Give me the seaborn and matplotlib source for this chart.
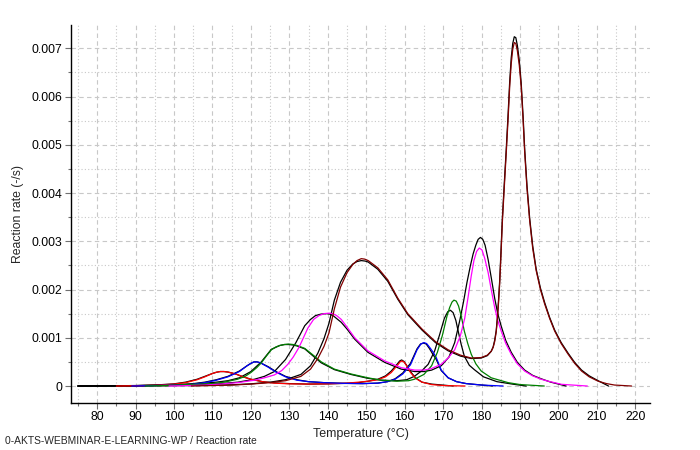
import matplotlib
matplotlib.use("Agg")
import matplotlib.pyplot as plt
from matplotlib.ticker import MultipleLocator
import numpy as np
import pandas as pd
import seaborn as sns

# reaction rate values in 1e-3 /s
t_red = [85, 90, 95, 100, 103, 106, 108, 110, 111, 112, 113, 114, 116, 118, 120, 123, 126, 130, 135, 140, 145, 148,
         150.5, 153, 155, 156.5, 158, 158.8, 159.3, 159.9, 160.5, 161.5, 162.8, 164.5, 167, 170, 175.7]
r_red = [0, 0.005, 0.015, 0.04, 0.07, 0.13, 0.19, 0.26, 0.285, 0.30, 0.30, 0.29, 0.25, 0.19, 0.14, 0.09, 0.06, 0.045, 0.04, 0.045, 0.06, 0.08,
         0.10, 0.13, 0.19, 0.28, 0.42, 0.50, 0.52, 0.49, 0.42, 0.28, 0.16, 0.08, 0.03, 0.01, 0]
t_blk1 = [75, 85, 90, 95, 100, 103, 106, 108, 110, 111, 112, 113, 114, 116, 118, 120, 123, 126, 130, 135, 140, 145, 148,
          150.5, 153, 155, 156.5, 158, 158.7, 159.2, 159.8, 160.4, 161.5, 162.8, 164.5, 167, 172.6]
r_blk1 = [0, 0.003, 0.008, 0.02, 0.045, 0.08, 0.14, 0.20, 0.26, 0.285, 0.30, 0.30, 0.29, 0.25, 0.19, 0.14, 0.09, 0.065, 0.05, 0.04, 0.045, 0.055, 0.07,
          0.10, 0.14, 0.21, 0.31, 0.45, 0.52, 0.54, 0.51, 0.44, 0.30, 0.17, 0.08, 0.04, 0]

t_blue = [89, 95, 100, 104, 108, 111, 114, 117, 119, 120, 120.8, 121.6, 122.5, 124.5, 126.5, 129, 132, 135, 139, 144, 149,
          153, 155.5, 157.5, 159.5, 161.5, 163.2, 164.2, 165, 165.7, 166.5, 167.4, 168.2, 169.5, 171.3, 173.5, 176, 180, 185.6]
r_blue = [0, 0.01, 0.02, 0.03, 0.07, 0.12, 0.19, 0.30, 0.42, 0.47, 0.50, 0.50, 0.48, 0.39, 0.29, 0.19, 0.12, 0.09, 0.07, 0.055, 0.05,
          0.06, 0.09, 0.14, 0.25, 0.44, 0.75, 0.87, 0.90, 0.88, 0.80, 0.70, 0.59, 0.33, 0.17, 0.09, 0.05, 0.02, 0]
t_blk2 = [75, 85, 95, 100, 104, 108, 111, 114, 117, 119, 120, 120.8, 121.6, 122.5, 124.5, 126.5, 129, 132, 135, 139, 144, 149,
          153, 155.5, 157.5, 159.5, 161.5, 163.2, 164.1, 164.9, 165.6, 166.4, 167.3, 168.2, 169.5, 171.3, 173.5, 176, 182.8]
r_blk2 = [0, 0.005, 0.015, 0.025, 0.04, 0.08, 0.13, 0.20, 0.31, 0.42, 0.47, 0.50, 0.50, 0.48, 0.40, 0.30, 0.20, 0.13, 0.09, 0.07, 0.055, 0.05,
          0.06, 0.09, 0.15, 0.27, 0.47, 0.77, 0.87, 0.89, 0.87, 0.78, 0.66, 0.55, 0.32, 0.17, 0.09, 0.05, 0]

t_green = [92.5, 98, 103, 107, 110, 113, 116.5, 118.5, 120, 121.5, 122.7, 124, 125.3, 126.5, 127.5, 128.7, 129.8, 131, 132, 134,
           136.5, 138.3, 141.7, 146, 150.4, 154, 158, 161, 162.5, 165, 167, 168.5, 169.8, 171, 171.7, 172.3, 172.8, 173.4,
           174, 174.7, 175.5, 176.4, 177.3, 178.5, 179.9, 182.5, 186.9, 190, 196.3]
r_green = [0, 0.01, 0.03, 0.04, 0.05, 0.08, 0.14, 0.20, 0.28, 0.38, 0.48, 0.62, 0.75, 0.81, 0.84, 0.86, 0.87, 0.86, 0.84, 0.78,
           0.62, 0.50, 0.35, 0.25, 0.17, 0.12, 0.10, 0.11, 0.14, 0.24, 0.42, 0.70, 1.05, 1.45, 1.63, 1.74, 1.78, 1.76,
           1.66, 1.45, 1.14, 0.88, 0.66, 0.46, 0.31, 0.17, 0.07, 0.03, 0]
t_blk3 = [75, 88, 95, 100, 104, 108, 111, 114, 117, 120, 122.7, 125.3, 127.5, 128.7, 129.8, 131, 132, 134, 136.5, 138.3, 141.7, 146,
          150.4, 154, 158, 160.5, 162.5, 164.5, 166.1, 167.8, 169.1, 170.3, 171.2, 171.9, 172.6, 173.3, 173.9, 174.7, 175.5,
          176.8, 178.1, 180.5, 184, 188, 191.6]
r_blk3 = [0, 0.005, 0.015, 0.025, 0.04, 0.06, 0.08, 0.11, 0.17, 0.30, 0.50, 0.76, 0.84, 0.86, 0.86, 0.85, 0.83, 0.77, 0.60, 0.48, 0.34, 0.24,
          0.16, 0.12, 0.11, 0.13, 0.20, 0.32, 0.45, 0.73, 1.07, 1.40, 1.54, 1.57, 1.52, 1.36, 1.14, 0.86, 0.62,
          0.43, 0.34, 0.19, 0.09, 0.04, 0]

t_magenta = [98.7, 104, 108, 112, 116.6, 120.9, 123.5, 126.1, 128, 129.6, 131, 132.5, 134.8, 136.3, 137.7, 139, 140.3, 141.3,
             142.3, 143.5, 145, 147, 150.4, 154.8, 159.1, 162.6, 165, 166.9, 169.5, 171.3, 173, 174.5, 175.6, 176.5,
             177.3, 178, 178.7, 179.4, 180.1, 180.8, 181.7, 182.5, 183.4, 184.2, 185.1, 186.3, 187.7, 189.3, 191.2,
             193.3, 195.5, 197.3, 200.8, 207.5]
r_magenta = [0, 0.01, 0.02, 0.04, 0.07, 0.12, 0.17, 0.23, 0.32, 0.45, 0.60, 0.80, 1.20, 1.38, 1.46, 1.50, 1.51, 1.50,
             1.46, 1.38, 1.22, 1.00, 0.73, 0.52, 0.38, 0.33, 0.33, 0.36, 0.45, 0.58, 0.75, 1.05, 1.40, 1.85,
             2.28, 2.60, 2.79, 2.86, 2.82, 2.65, 2.35, 2.00, 1.63, 1.36, 1.14, 0.88, 0.66, 0.46, 0.31,
             0.21, 0.14, 0.10, 0.035, 0]
t_blk4 = [75, 90, 98, 104, 108, 112, 116.6, 120.9, 123.5, 126.1, 129, 131.7, 134, 135.5, 136.8, 138.2, 139.6, 140.6, 141.5,
          143.5, 145, 147, 150.4, 154.8, 159.1, 162.6, 165, 167, 169.5, 171.5, 173, 174.3, 175.3, 176.2, 177.1, 177.8,
          178.5, 179.1, 179.7, 180.3, 180.9, 181.7, 182.5, 183.4, 184.2, 185.1, 186.3, 187.7, 189.3, 191.2, 193.3,
          195.5, 198, 202]
r_blk4 = [0, 0.005, 0.01, 0.02, 0.03, 0.05, 0.08, 0.14, 0.20, 0.30, 0.55, 0.90, 1.25, 1.38, 1.46, 1.49, 1.50, 1.49, 1.45,
          1.32, 1.18, 0.97, 0.70, 0.49, 0.35, 0.30, 0.30, 0.33, 0.42, 0.60, 0.90, 1.35, 1.75, 2.15, 2.50, 2.74,
          2.92, 3.04, 3.08, 3.04, 2.92, 2.62, 2.25, 1.82, 1.50, 1.24, 0.94, 0.70, 0.49, 0.33, 0.22,
          0.15, 0.08, 0]

t_maroon = [104.5, 110, 115, 120, 125, 129, 133, 135.5, 137.4, 139, 140.3, 141.7, 143.3, 145, 146.5, 147.6, 148.7, 149.6, 150.5,
            153, 155.6, 158.2, 160.8, 164.5, 168, 171.3, 174.5, 177.3, 179.9, 181.5, 182.5, 183, 183.4, 183.8, 184.1, 184.4,
            184.7, 185.0, 185.4, 185.9, 186.4, 186.9, 187.3, 187.7, 188.1, 188.5, 188.9, 189.3, 189.8, 190.3, 190.8,
            191.2, 191.8, 192.5, 193.3, 194.2, 195.3, 196.4, 197.7, 199, 200.7, 202.5, 204.2, 206, 208, 210.3, 212.5,
            214.6, 219]
r_maroon = [0, 0.01, 0.02, 0.04, 0.07, 0.11, 0.20, 0.35, 0.57, 0.82, 1.10, 1.60, 2.05, 2.35, 2.52, 2.60, 2.64, 2.63, 2.60,
            2.45, 2.20, 1.82, 1.50, 1.18, 0.92, 0.75, 0.64, 0.58, 0.59, 0.64, 0.72, 0.80, 0.92, 1.12, 1.38, 1.72,
            2.12, 2.65, 3.40, 4.12, 4.82, 5.55, 6.20, 6.68, 6.98, 7.12, 7.10, 6.95, 6.65, 6.20, 5.50,
            4.85, 4.10, 3.43, 2.85, 2.39, 2.00, 1.70, 1.40, 1.14, 0.88, 0.66, 0.47, 0.31, 0.19, 0.10, 0.05,
            0.02, 0]
t_blk5 = [75, 95, 104.5, 110, 115, 120, 125, 129, 133, 135.5, 137.4, 139, 140.3, 141.7, 143.3, 145, 146.5, 147.6, 148.7,
          149.7, 150.5, 153, 155.6, 158.2, 160.8, 164.5, 168, 171.3, 174.5, 177.3, 179.9, 181.5, 182.5, 183, 183.4,
          183.8, 184.1, 184.4, 184.7, 185.0, 185.4, 185.9, 186.4, 186.9, 187.3, 187.7, 188.1, 188.5, 188.9, 189.3,
          189.8, 190.3, 190.8, 191.2, 191.8, 192.5, 193.3, 194.2, 195.3, 196.4, 197.7, 199, 200.7, 202.5, 204.2,
          206, 208, 210.3, 213]
r_blk5 = [0, 0.005, 0.01, 0.015, 0.025, 0.045, 0.08, 0.13, 0.24, 0.42, 0.68, 0.98, 1.30, 1.78, 2.15, 2.40, 2.53, 2.58, 2.60,
          2.59, 2.57, 2.42, 2.17, 1.80, 1.48, 1.16, 0.90, 0.73, 0.62, 0.57, 0.58, 0.63, 0.72, 0.81, 0.95,
          1.15, 1.42, 1.78, 2.18, 2.72, 3.48, 4.20, 4.90, 5.65, 6.30, 6.80, 7.10, 7.24, 7.22, 7.06,
          6.75, 6.28, 5.58, 4.92, 4.16, 3.48, 2.90, 2.42, 2.03, 1.73, 1.42, 1.16, 0.90, 0.68, 0.49,
          0.33, 0.21, 0.11, 0]

sim_curves = [(t_red, r_red, "#ff0000"), (t_blue, r_blue, "#0000ff"), (t_green, r_green, "#008000"),
              (t_magenta, r_magenta, "#ff00ff"), (t_maroon, r_maroon, "#800000")]
exp_curves = [(t_blk1, r_blk1), (t_blk2, r_blk2), (t_blk3, r_blk3), (t_blk4, r_blk4), (t_blk5, r_blk5)]

x_ticks = list(range(80, 221, 10))
y_ticks = [0, 0.001, 0.002, 0.003, 0.004, 0.005, 0.006, 0.007]
y_labels = ["0", "0.001", "0.002", "0.003", "0.004", "0.005", "0.006", "0.007"]

sns.set_style("white")
plt.rcParams["font.family"] = ["Liberation Sans", "DejaVu Sans"]

fig = plt.figure(figsize=(7, 4.5), dpi=100)
ax = fig.add_axes([71 / 700, 47 / 450, 579 / 700, 378 / 450])

# experimental curves first, simulated ones drawn over them
for t, r in exp_curves:
    df = pd.DataFrame({"T": t, "rate": np.array(r) * 1e-3})
    sns.lineplot(data=df, x="T", y="rate", color="black", linewidth=0.9, sort=False,
                 estimator=None, ax=ax, zorder=3)
for t, r, c in sim_curves:
    df = pd.DataFrame({"T": t, "rate": np.array(r) * 1e-3})
    sns.lineplot(data=df, x="T", y="rate", color=c, linewidth=0.9, sort=False,
                 estimator=None, ax=ax, zorder=4)

ax.set_xlim(73.2, 223.8)
ax.set_ylim(-0.000352, 0.007483)
ax.set_xticks(x_ticks)
ax.set_xticklabels([str(v) for v in x_ticks])
ax.xaxis.set_minor_locator(MultipleLocator(5))
ax.set_yticks(y_ticks)
ax.set_yticklabels(y_labels)
ax.yaxis.set_minor_locator(MultipleLocator(0.0005))

ax.grid(which="major", color="#c8c8c8", linestyle=(0, (4, 3)), linewidth=0.8)
ax.grid(which="minor", color="#c8c8c8", linestyle=(0, (1, 2)), linewidth=0.8)
ax.set_axisbelow(True)

for s in ["top", "right"]:
    ax.spines[s].set_visible(False)
for s in ["left", "bottom"]:
    ax.spines[s].set_color("black")
    ax.spines[s].set_linewidth(1)

ax.tick_params(which="major", direction="out", length=4, width=0.8, color="#707070",
               labelsize=8.8, labelcolor="black", pad=2, left=True, bottom=True)
ax.tick_params(which="minor", direction="out", length=2.5, width=0.8, color="#707070",
               left=True, bottom=True)

ax.set_xlabel("Temperature (°C)", fontsize=9, labelpad=3)
ax.set_ylabel("Reaction rate (-/s)", fontsize=8.8, labelpad=6)
fig.text(5 / 700, 1 - 441 / 450, "0-AKTS-WEBMINAR-E-LEARNING-WP / Reaction rate",
         fontsize=7.4, ha="left", va="center")

fig.savefig("out.png", dpi=100)
